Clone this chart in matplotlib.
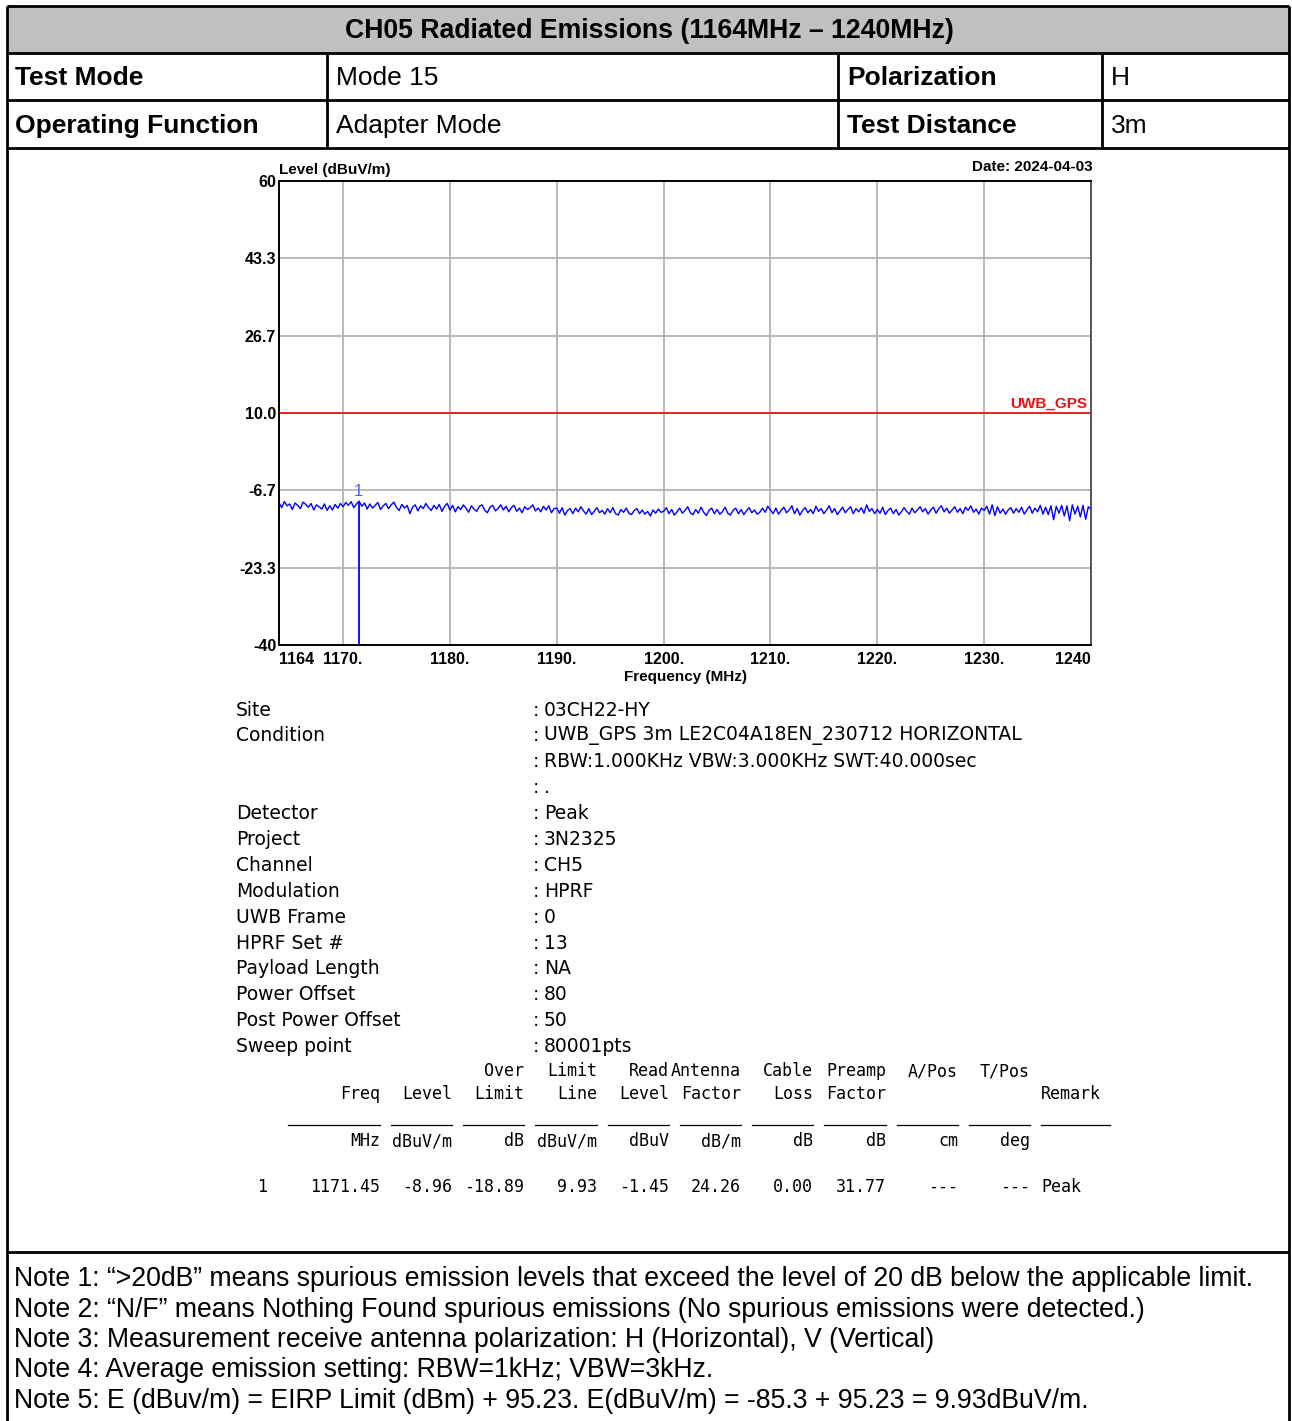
import numpy as np
import matplotlib
matplotlib.use("Agg")
import matplotlib.pyplot as plt
from matplotlib.patches import Rectangle

# ---------------------------------------------------------------------------
# Data
# ---------------------------------------------------------------------------
f_start, f_stop = 1164.0, 1240.0
limit_level = 9.93
marker_freq = 1171.45
marker_level = -8.96

y_ticks = [60, 43.3, 26.7, 10.0, -6.7, -23.3, -40]
y_tick_labels = ["60", "43.3", "26.7", "10.0", "-6.7", "-23.3", "-40"]
x_ticks = [1164, 1170, 1180, 1190, 1200, 1210, 1220, 1230, 1240]
x_tick_labels = ["1164", "1170.", "1180.", "1190.", "1200.", "1210.", "1220.", "1230.", "1240"]

# measured trace (dBuV/m), evenly spaced over the sweep
trace_level = [
    -9.3, -10.4, -9.1, -10.0, -9.6, -10.8, -9.4, -9.9, -10.6, -9.2,
    -9.7, -10.3, -9.5, -10.9, -9.8, -10.2, -10.7, -9.6, -11.0, -10.0,
    -10.9, -9.7, -10.5, -9.5, -10.2, -9.3, -9.9, -9.1, -10.4, -9.6,
    -9.0, -10.1,
    -9.4, -10.7, -9.6, -10.5, -9.9, -9.3, -10.8, -10.0, -9.5, -10.6,
    -9.8, -9.2, -10.4, -11.0, -9.7, -10.5, -9.9, -11.7, -10.3, -9.8,
    -11.1, -10.0, -10.6, -9.5, -10.4, -11.0, -9.9, -10.7, -9.7, -11.2,
    -10.1, -9.5,
    -10.9, -9.9, -11.3, -10.2, -10.8, -9.8, -10.5, -11.4, -10.0, -10.7,
    -11.2, -10.1, -9.8, -10.9, -11.5, -10.3, -9.9, -11.1, -10.6, -9.8,
    -10.9, -10.1, -11.3, -10.4, -9.9, -11.2, -10.5, -11.5, -10.2, -10.8,
    -10.4, -9.8, -11.1, -10.5, -11.3, -10.1, -10.9, -10.0, -11.5, -10.6,
    -10.5, -11.6, -10.4, -12.0, -11.0, -10.6, -11.7, -10.5, -11.3, -10.2,
    -11.1, -11.8, -10.6, -11.9, -11.2, -10.4, -11.5, -11.0, -11.8, -10.6,
    -11.5, -10.4, -11.7, -12.0, -10.8, -11.4, -10.5, -11.6, -11.9, -11.0,
    -10.6, -11.7, -10.9, -11.8, -11.2, -12.2, -10.9, -11.6, -10.7, -11.4,
    -11.2, -10.4, -11.7, -10.8, -12.0, -11.3, -10.5, -11.6, -11.0, -10.2,
    -11.5, -11.9, -10.8, -11.6, -10.3, -11.4, -12.1, -11.0, -10.5, -11.7,
    -10.8, -11.8, -11.3, -10.3, -11.6, -12.0, -11.0, -10.5, -11.7, -10.8,
    -11.9, -11.1, -10.4, -11.5, -10.9, -11.8, -11.4, -10.5, -11.4, -10.1,
    -10.9, -11.7, -10.5, -11.8, -11.0, -10.3, -11.5, -10.9, -10.0, -11.7,
    -10.6, -12.0, -11.0, -10.4, -11.5, -10.8, -11.7, -10.1, -11.2, -10.6,
    -11.7, -10.9, -10.0, -11.5, -10.6, -11.9, -11.1, -10.3, -11.5, -10.8,
    -10.2, -11.7, -10.6, -11.3, -10.4, -11.6, -9.8, -11.2, -10.6, -11.7,
    -10.8, -11.6, -10.3, -11.9, -11.0, -10.5, -11.7, -10.8, -12.0, -11.3,
    -10.4, -11.2, -11.8, -10.5, -11.5, -10.9, -10.2, -11.3, -10.6, -11.8,
    -10.9, -10.3, -11.6, -10.6, -10.0, -11.3, -10.5, -11.6, -10.9, -10.2,
    -11.4, -10.6, -11.7, -10.3, -11.0, -10.0, -11.4, -10.7, -11.8, -10.5,
    -11.0, -10.1, -11.8, -9.8, -12.1, -10.2, -11.6, -10.7, -11.8, -10.9,
    -10.4, -11.6, -10.6, -11.4, -10.3, -11.8, -10.9, -10.1, -11.6, -10.5,
    -11.3, -9.9, -11.8, -10.3, -11.9, -10.0, -13.0, -10.1, -11.6, -9.9,
    -12.2, -10.0, -13.2, -9.8, -11.8, -10.1, -12.4, -9.9, -12.9, -10.2,
    -10.8,
]

info_labels = ["Site", "Condition", "", "", "Detector", "Project", "Channel",
               "Modulation", "UWB Frame", "HPRF Set #", "Payload Length",
               "Power Offset", "Post Power Offset", "Sweep point"]
info_values = ["03CH22-HY", "UWB_GPS 3m LE2C04A18EN_230712 HORIZONTAL",
               "RBW:1.000KHz VBW:3.000KHz SWT:40.000sec", ".", "Peak",
               "3N2325", "CH5", "HPRF", "0", "13", "NA", "80", "50", "80001pts"]

col_head1 = ["", "", "Over", "Limit", "Read", "Antenna", "Cable", "Preamp", "A/Pos", "T/Pos"]
col_head2 = ["Freq", "Level", "Limit", "Line", "Level", "Factor", "Loss", "Factor", "", ""]
col_units = ["MHz", "dBuV/m", "dB", "dBuV/m", "dBuV", "dB/m", "dB", "dB", "cm", "deg"]
row_vals = ["1171.45", "-8.96", "-18.89", "9.93", "-1.45", "24.26", "0.00", "31.77", "---", "---"]
row_remark = "Peak"

notes = [
    "Note 1: \u201c>20dB\u201d means spurious emission levels that exceed the level of 20 dB below the applicable limit.",
    "Note 2: \u201cN/F\u201d means Nothing Found spurious emissions (No spurious emissions were detected.)",
    "Note 3: Measurement receive antenna polarization: H (Horizontal), V (Vertical)",
    "Note 4: Average emission setting: RBW=1kHz; VBW=3kHz.",
    "Note 5: E (dBuv/m) = EIRP Limit (dBm) + 95.23. E(dBuV/m) = -85.3 + 95.23 = 9.93dBuV/m.",
]

# ---------------------------------------------------------------------------
# Figure in pixel coordinates
# ---------------------------------------------------------------------------
W, H = 1292, 1421
SANS = "Liberation Sans"
fig = plt.figure(figsize=(W / 100, H / 100), dpi=100)
bg = fig.add_axes([0, 0, 1, 1])
bg.set_xlim(0, W)
bg.set_ylim(H, 0)
bg.axis("off")


def hline(y, x0=7, x1=1289, lw=2.0):
    bg.plot([x0, x1], [y, y], color="black", lw=lw, solid_capstyle="butt")


def vline(x, y0, y1, lw=2.0):
    bg.plot([x, x], [y0, y1], color="black", lw=lw, solid_capstyle="butt")


# report table frame
bg.add_patch(Rectangle((7, 6), 1282, 47, fc="#c0c0c0", ec="none"))
for y in [6, 53, 100, 148, 1252]:
    hline(y)
vline(7, 6, H)
vline(1289, 6, H)
for x in [327, 838, 1102]:
    vline(x, 53, 148)

bg.text(649, 31, "CH05 Radiated Emissions (1164MHz \u2013 1240MHz)", ha="center",
        va="center", fontsize=19.2, fontweight="bold", family=SANS)
cells = [(15, 78, "Test Mode", "bold"), (336, 78, "Mode 15", "normal"),
         (847, 78, "Polarization", "bold"), (1111, 78, "H", "normal"),
         (15, 126, "Operating Function", "bold"), (336, 126, "Adapter Mode", "normal"),
         (847, 126, "Test Distance", "bold"), (1111, 126, "3m", "normal")]
for x, y, s, w in cells:
    bg.text(x, y, s, ha="left", va="center", fontsize=19, fontweight=w, family=SANS)

# ---------------------------------------------------------------------------
# Spectrum plot
# ---------------------------------------------------------------------------
ax_l, ax_t, ax_r, ax_b = 279, 181, 1091, 645
ax = fig.add_axes([ax_l / W, 1 - ax_b / H, (ax_r - ax_l) / W, (ax_b - ax_t) / H])
freq = np.linspace(f_start, f_stop, len(trace_level))
ax.set_xlim(f_start, f_stop)
ax.set_ylim(-40, 60)
ax.set_xticks(x_ticks)
ax.set_xticklabels(x_tick_labels)
ax.set_yticks(y_ticks)
ax.set_yticklabels(y_tick_labels)
ax.tick_params(length=0, labelsize=11.5, pad=2)
ax.tick_params(axis="x", pad=5)
for lab in ax.get_xticklabels() + ax.get_yticklabels():
    lab.set_fontweight("bold")
    lab.set_family(SANS)
ax.get_xticklabels()[0].set_horizontalalignment("left")
ax.get_xticklabels()[-1].set_horizontalalignment("right")
ax.get_xticklabels()[-1].set_x(1240.8)
ax.grid(True, color="#b4b4b4", lw=1.3)
ax.set_axisbelow(True)
for sp in ax.spines.values():
    sp.set_linewidth(1.4)
    sp.set_color("black")
ax.spines["right"].set_color("#555555")

ax.axhline(limit_level, color="#ee2222", lw=1.4)
ax.text(1239.6, limit_level + 0.6, "UWB_GPS", color="#ee1111", ha="right", va="bottom",
        fontsize=11, fontweight="bold", family=SANS)
ax.plot(freq, trace_level, color="#0000ff", lw=1.0)
ax.vlines(marker_freq, -40, marker_level, color="#0000ff", lw=1.3)
ax.text(marker_freq, marker_level + 0.4, "1", color="#5a5ae6", ha="center", va="bottom",
        fontsize=12, family=SANS)

bg.text(279, 170, "Level (dBuV/m)", ha="left", va="center", fontsize=11,
        fontweight="bold", family=SANS)
bg.text(1093, 167, "Date: 2024-04-03", ha="right", va="center", fontsize=11,
        fontweight="bold", family=SANS)
bg.text(686, 677, "Frequency (MHz)", ha="center", va="center", fontsize=11,
        fontweight="bold", family=SANS)

# ---------------------------------------------------------------------------
# Test condition block
# ---------------------------------------------------------------------------
INFO = "DejaVu Sans"
for i, (lab, val) in enumerate(zip(info_labels, info_values)):
    y = 710 + i * 25.9
    if lab:
        bg.text(236, y, lab, ha="left", va="center", fontsize=13.5, family=INFO)
    bg.text(533, y, ":", ha="left", va="center", fontsize=13.5, family=INFO)
    bg.text(544, y, val, ha="left", va="center", fontsize=13.5, family=INFO)

# ---------------------------------------------------------------------------
# Marker table
# ---------------------------------------------------------------------------
MONO = "DejaVu Sans Mono"
col_right = [380, 452, 524, 597, 669, 741, 813, 886, 958, 1030]
col_left = [288, 391, 463, 535, 608, 680, 752, 824, 897, 969]
for i, xr in enumerate(col_right):
    for y, txt in [(1071, col_head1[i]), (1094, col_head2[i]),
                   (1141, col_units[i]), (1187, row_vals[i])]:
        if txt:
            bg.text(xr, y, txt, ha="right", va="center", fontsize=12, family=MONO)
    bg.plot([col_left[i], xr], [1125, 1125], color="black", lw=0.9)
bg.text(1041, 1094, "Remark", ha="left", va="center", fontsize=12, family=MONO)
bg.text(1041, 1187, row_remark, ha="left", va="center", fontsize=12, family=MONO)
bg.plot([1041, 1110], [1125, 1125], color="black", lw=0.9)
bg.text(262, 1187, "1", ha="center", va="center", fontsize=12, family=MONO)

# ---------------------------------------------------------------------------
# Notes
# ---------------------------------------------------------------------------
for i, note in enumerate(notes):
    bg.text(14, 1279.5 + i * 30.3, note, ha="left", va="center", fontsize=19.2, family=SANS)

fig.savefig("out.png", dpi=100)
